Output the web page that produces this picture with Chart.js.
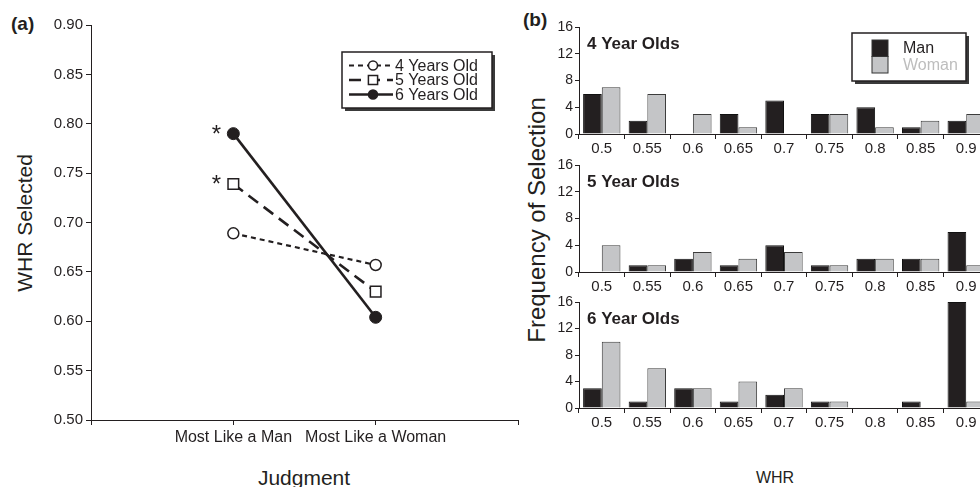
<!DOCTYPE html>
<html>
<head>
<meta charset="utf-8">
<script src="https://cdn.jsdelivr.net/npm/chart.js@4/dist/chart.umd.min.js"></script>
<style>
  html, body { margin: 0; padding: 0; width: 980px; height: 487px; overflow: hidden; background: #fff; }
  body { position: relative; font-family: 'Liberation Sans', Arial, sans-serif; color: #231f20; }
  canvas { position: absolute; }
  .lbl { position: absolute; white-space: nowrap; line-height: 1; transform: translate(-50%, -50%); }
  .rot { transform: translate(-50%, -50%) rotate(-90deg); }
  .panel { position: absolute; font-weight: bold; font-size: 19px; line-height: 1; }
</style>
</head>
<body>
<div class="panel" style="left:11px; top:14px;">(a)</div>
<div class="panel" style="left:523px; top:10px;">(b)</div>
<div class="lbl rot" style="left:24px; top:223px; font-size:21px;">WHR Selected</div>
<div class="lbl" style="left:304px; top:477px; font-size:21px;">Judgment</div>
<div class="lbl rot" style="left:537px; top:220px; font-size:24px;">Frequency of Selection</div>
<div class="lbl" style="left:775px; top:478px; font-size:16px;">WHR</div>

<canvas id="lineChart" width="540" height="487" style="left:0; top:0;"></canvas>
<canvas id="bar4" width="460" height="148" style="left:530px; top:10px;"></canvas>
<canvas id="bar5" width="460" height="146" style="left:530px; top:150px;"></canvas>
<canvas id="bar6" width="460" height="147" style="left:530px; top:287px;"></canvas>

<script>
// (a) mean WHR selected per judgment
const judgmentLabels = ['Most Like a Man', 'Most Like a Woman'];
const ageGroups = ['4 Years Old', '5 Years Old', '6 Years Old'];
const whr4 = [0.689, 0.657];
const whr5 = [0.739, 0.630];
const whr6 = [0.790, 0.604];
const whrTicks = [0.50, 0.55, 0.60, 0.65, 0.70, 0.75, 0.80, 0.85, 0.90];

// (b) frequency of selection per WHR
const whrCategories = ['0.5', '0.55', '0.6', '0.65', '0.7', '0.75', '0.8', '0.85', '0.9'];
const man4 = [6, 2, 0, 3, 5, 3, 4, 1, 2];
const woman4 = [7, 6, 3, 1, 0, 3, 1, 2, 3];
const man5 = [0, 1, 2, 1, 4, 1, 2, 2, 6];
const woman5 = [4, 1, 3, 2, 3, 1, 2, 2, 1];
const man6 = [3, 1, 3, 1, 2, 1, 0, 1, 16];
const woman6 = [10, 6, 3, 4, 3, 1, 0, 0, 1];
const freqMax = 16;

const INK = '#231f20';
const GRAY = '#c4c5c7';
const FONT = "'Liberation Sans', Arial, sans-serif";

Chart.defaults.font.family = FONT;
Chart.defaults.color = INK;

// points sit at x = 1 and x = 2 on a 0..3 axis
function toPoints(values) {
    return values.map((v, i) => ({ x: i + 1, y: v }));
}

// asterisks beside significant "Most Like a Man" points
const starMarks = {
    id: 'starMarks',
    afterDatasetsDraw(chart, args, opts) {
        const ctx = chart.ctx;
        ctx.save();
        ctx.font = '24px ' + FONT;
        ctx.fillStyle = INK;
        ctx.textAlign = 'center';
        ctx.textBaseline = 'alphabetic';
        opts.datasets.forEach((di) => {
            const pt = chart.getDatasetMeta(di).data[0];
            ctx.fillText('*', pt.x - 17, pt.y + 8.5);
        });
        ctx.restore();
    }
};

function drawMarker(ctx, style, r, fill, x, y) {
    ctx.setLineDash([]);
    ctx.lineWidth = 1.5;
    ctx.strokeStyle = INK;
    ctx.fillStyle = fill;
    ctx.beginPath();
    if (style === 'rect') {
        const s = r * Math.SQRT1_2;
        ctx.rect(x - s, y - s, 2 * s, 2 * s);
    } else {
        ctx.arc(x, y, r, 0, Math.PI * 2);
    }
    ctx.fill();
    ctx.stroke();
}

// boxed legend with line samples (panel a)
const lineLegend = {
    id: 'lineLegend',
    afterDraw(chart, args, o) {
        const ctx = chart.ctx;
        ctx.save();
        ctx.fillStyle = '#3a3a3a';
        ctx.fillRect(o.x + 3, o.y + 3, o.w, o.h);
        ctx.fillStyle = '#fff';
        ctx.fillRect(o.x, o.y, o.w, o.h);
        ctx.strokeStyle = INK;
        ctx.lineWidth = 1.5;
        ctx.strokeRect(o.x, o.y, o.w, o.h);
        chart.data.datasets.forEach((ds, i) => {
            const cy = o.y + 13.5 + i * 14.5;
            ctx.strokeStyle = ds.borderColor;
            ctx.lineWidth = ds.borderWidth;
            ctx.setLineDash(ds.borderDash || []);
            ctx.beginPath();
            ctx.moveTo(o.x + 7, cy);
            ctx.lineTo(o.x + 51, cy);
            ctx.stroke();
            drawMarker(ctx, ds.pointStyle, ds.pointStyle === 'rect' ? 6.5 : 4.5, ds.pointBackgroundColor, o.x + 31, cy);
            ctx.fillStyle = INK;
            ctx.font = '16px ' + FONT;
            ctx.textBaseline = 'middle';
            ctx.textAlign = 'left';
            ctx.fillText(ds.label, o.x + 53, cy + 1);
        });
        ctx.restore();
    }
};

new Chart(document.getElementById('lineChart'), {
    type: 'line',
    data: {
        datasets: [
            {
                label: ageGroups[0],
                data: toPoints(whr4),
                borderColor: INK,
                borderWidth: 2.2,
                borderDash: [5, 4],
                pointStyle: 'circle',
                pointRadius: 5.5,
                pointBorderWidth: 1.5,
                pointBorderColor: INK,
                pointBackgroundColor: '#fff'
            },
            {
                label: ageGroups[1],
                data: toPoints(whr5),
                borderColor: INK,
                borderWidth: 2.6,
                borderDash: [12, 7],
                pointStyle: 'rect',
                pointRadius: 7.5,
                pointBorderWidth: 1.5,
                pointBorderColor: INK,
                pointBackgroundColor: '#fff'
            },
            {
                label: ageGroups[2],
                data: toPoints(whr6),
                borderColor: INK,
                borderWidth: 2.6,
                pointStyle: 'circle',
                pointRadius: 6,
                pointBorderWidth: 1,
                pointBorderColor: INK,
                pointBackgroundColor: INK
            }
        ]
    },
    options: {
        responsive: false,
        animation: false,
        devicePixelRatio: 1,
        layout: { padding: { left: 0, top: 25, right: 22, bottom: 0 } },
        plugins: {
            legend: { display: false },
            tooltip: { enabled: false },
            starMarks: { datasets: [1, 2] },
            lineLegend: { x: 342, y: 52, w: 150, h: 56 }
        },
        scales: {
            x: {
                type: 'linear',
                min: 0,
                max: 3,
                afterFit: (s) => { s.height = 67; },
                afterBuildTicks: (s) => { s.ticks = [0, 1, 2, 3].map(v => ({ value: v })); },
                ticks: {
                    autoSkip: false,
                    maxRotation: 0,
                    padding: 3,
                    font: { size: 16 },
                    callback: (v) => judgmentLabels[v - 1] || ''
                },
                grid: { drawOnChartArea: false, tickLength: 5, tickColor: INK },
                border: { color: INK, width: 1 }
            },
            y: {
                min: 0.5,
                max: 0.9,
                afterFit: (s) => { s.width = 91; },
                afterBuildTicks: (s) => { s.ticks = whrTicks.map(v => ({ value: v })); },
                ticks: {
                    padding: 3,
                    font: { size: 15 },
                    callback: (v) => v.toFixed(2)
                },
                grid: { drawOnChartArea: false, tickLength: 5, tickColor: INK },
                border: { color: INK, width: 1 }
            }
        }
    },
    plugins: [starMarks, lineLegend]
});

// bold age label inside each bar panel
const panelLabel = {
    id: 'panelLabel',
    afterDraw(chart, args, o) {
        if (!o.text) return;
        const ctx = chart.ctx;
        ctx.save();
        ctx.font = 'bold 17px ' + FONT;
        ctx.fillStyle = INK;
        ctx.textBaseline = 'middle';
        ctx.fillText(o.text, chart.chartArea.left + 8, chart.chartArea.top + 17);
        ctx.restore();
    }
};

// Man / Woman swatch legend (top bar panel)
const swatchLegend = {
    id: 'swatchLegend',
    afterDraw(chart, args, o) {
        if (!o.show) return;
        const ctx = chart.ctx;
        const x = 322, y = 23, w = 114, h = 48;
        ctx.save();
        ctx.fillStyle = '#3a3a3a';
        ctx.fillRect(x + 3, y + 3, w, h);
        ctx.fillStyle = '#fff';
        ctx.fillRect(x, y, w, h);
        ctx.strokeStyle = INK;
        ctx.lineWidth = 1.5;
        ctx.strokeRect(x, y, w, h);
        const textColors = [INK, '#bdbdbd'];
        chart.data.datasets.forEach((ds, i) => {
            ctx.fillStyle = ds.backgroundColor;
            ctx.strokeStyle = '#333';
            ctx.lineWidth = 1;
            ctx.fillRect(x + 20, y + 7 + i * 16.5, 16, 16.5);
            ctx.strokeRect(x + 20, y + 7 + i * 16.5, 16, 16.5);
            ctx.fillStyle = textColors[i];
            ctx.font = '16px ' + FONT;
            ctx.textBaseline = 'middle';
            ctx.fillText(ds.label, x + 51, y + 16 + i * 17);
        });
        ctx.restore();
    }
};

function makeBarChart(id, title, manData, womanData, padTop, xHeight, showLegend) {
    return new Chart(document.getElementById(id), {
        type: 'bar',
        data: {
            labels: whrCategories,
            datasets: [
                {
                    label: 'Man',
                    data: manData,
                    backgroundColor: INK,
                    borderColor: '#111',
                    borderWidth: 1,
                    barPercentage: 1,
                    categoryPercentage: 0.82
                },
                {
                    label: 'Woman',
                    data: womanData,
                    backgroundColor: GRAY,
                    borderColor: '#3c3c3c',
                    borderWidth: 1,
                    barPercentage: 1,
                    categoryPercentage: 0.82
                }
            ]
        },
        options: {
            responsive: false,
            animation: false,
            devicePixelRatio: 1,
            layout: { padding: { left: 0, top: padTop, right: 1, bottom: 0 } },
            plugins: {
                legend: { display: false },
                tooltip: { enabled: false },
                panelLabel: { text: title },
                swatchLegend: { show: showLegend }
            },
            scales: {
                x: {
                    afterFit: (s) => { s.height = xHeight; },
                    ticks: { autoSkip: false, maxRotation: 0, padding: 1, font: { size: 15 } },
                    grid: { offset: true, drawOnChartArea: false, tickLength: 5, tickColor: INK },
                    border: { color: INK, width: 1 }
                },
                y: {
                    min: 0,
                    max: freqMax,
                    afterFit: (s) => { s.width = 49; },
                    ticks: {
                        stepSize: 2,
                        padding: 2,
                        font: { size: 14 },
                        callback: (v) => (v % 4 === 0 ? v : '')
                    },
                    grid: { drawOnChartArea: false, tickLength: 4, tickColor: INK },
                    border: { color: INK, width: 1 }
                }
            }
        },
        plugins: [panelLabel, swatchLegend]
    });
}

makeBarChart('bar4', '4 Year Olds', man4, woman4, 17, 24, true);
makeBarChart('bar5', '5 Year Olds', man5, woman5, 15, 24, false);
makeBarChart('bar6', '6 Year Olds', man6, woman6, 15, 26, false);
</script>
</body>
</html>
